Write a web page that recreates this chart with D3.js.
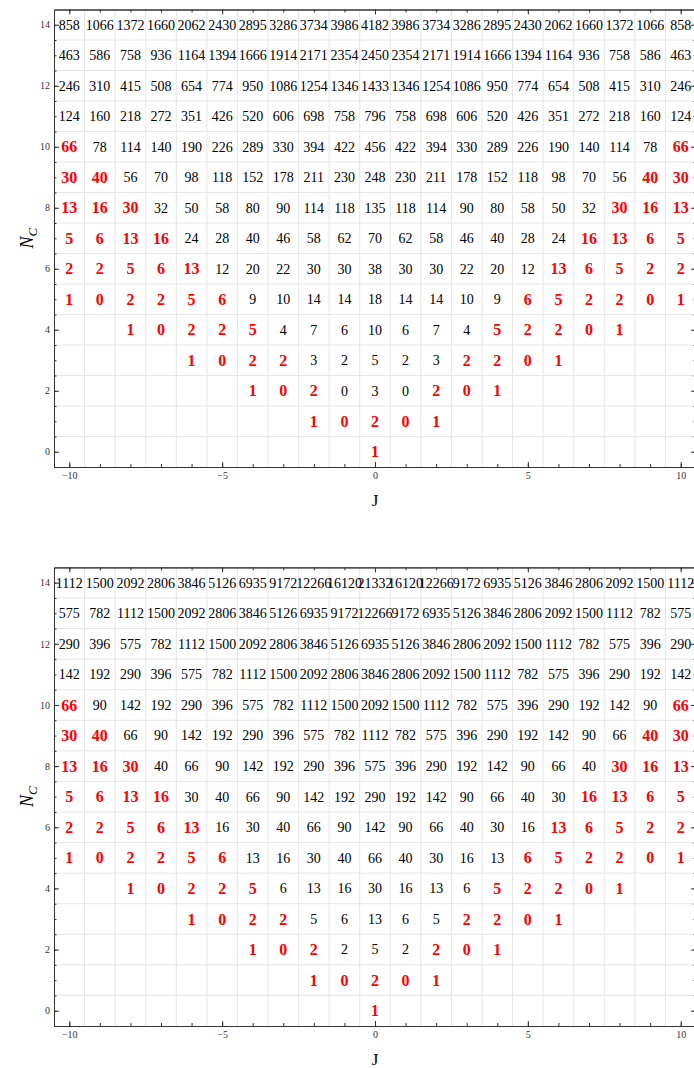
<!DOCTYPE html>
<html>
<head>
<meta charset="utf-8">
<script src="https://cdn.jsdelivr.net/npm/d3@7"></script>
<style>
body { margin: 0; background: #fff; }
svg { display: block; }
.frame path.domain { stroke: #333; }
.frame line { stroke: #333; }
.frame text { font-family: "Liberation Serif", serif; font-size: 10px; fill: #333; }
</style>
</head>
<body>
<svg id="chart" width="694" height="1068"></svg>
<script>
// columns J = -10 .. 10, rows N_C = 0 .. 14 (null = empty cell)
var jValues = d3.range(-10, 11);
var ncValues = d3.range(0, 15);

var countsTop = [
  [null,null,null,null,null,null,null,null,null,null,1,null,null,null,null,null,null,null,null,null,null],
  [null,null,null,null,null,null,null,null,1,0,2,0,1,null,null,null,null,null,null,null,null],
  [null,null,null,null,null,null,1,0,2,0,3,0,2,0,1,null,null,null,null,null,null],
  [null,null,null,null,1,0,2,2,3,2,5,2,3,2,2,0,1,null,null,null,null],
  [null,null,1,0,2,2,5,4,7,6,10,6,7,4,5,2,2,0,1,null,null],
  [1,0,2,2,5,6,9,10,14,14,18,14,14,10,9,6,5,2,2,0,1],
  [2,2,5,6,13,12,20,22,30,30,38,30,30,22,20,12,13,6,5,2,2],
  [5,6,13,16,24,28,40,46,58,62,70,62,58,46,40,28,24,16,13,6,5],
  [13,16,30,32,50,58,80,90,114,118,135,118,114,90,80,58,50,32,30,16,13],
  [30,40,56,70,98,118,152,178,211,230,248,230,211,178,152,118,98,70,56,40,30],
  [66,78,114,140,190,226,289,330,394,422,456,422,394,330,289,226,190,140,114,78,66],
  [124,160,218,272,351,426,520,606,698,758,796,758,698,606,520,426,351,272,218,160,124],
  [246,310,415,508,654,774,950,1086,1254,1346,1433,1346,1254,1086,950,774,654,508,415,310,246],
  [463,586,758,936,1164,1394,1666,1914,2171,2354,2450,2354,2171,1914,1666,1394,1164,936,758,586,463],
  [858,1066,1372,1660,2062,2430,2895,3286,3734,3986,4182,3986,3734,3286,2895,2430,2062,1660,1372,1066,858]
];

var countsBottom = [
  [null,null,null,null,null,null,null,null,null,null,1,null,null,null,null,null,null,null,null,null,null],
  [null,null,null,null,null,null,null,null,1,0,2,0,1,null,null,null,null,null,null,null,null],
  [null,null,null,null,null,null,1,0,2,2,5,2,2,0,1,null,null,null,null,null,null],
  [null,null,null,null,1,0,2,2,5,6,13,6,5,2,2,0,1,null,null,null,null],
  [null,null,1,0,2,2,5,6,13,16,30,16,13,6,5,2,2,0,1,null,null],
  [1,0,2,2,5,6,13,16,30,40,66,40,30,16,13,6,5,2,2,0,1],
  [2,2,5,6,13,16,30,40,66,90,142,90,66,40,30,16,13,6,5,2,2],
  [5,6,13,16,30,40,66,90,142,192,290,192,142,90,66,40,30,16,13,6,5],
  [13,16,30,40,66,90,142,192,290,396,575,396,290,192,142,90,66,40,30,16,13],
  [30,40,66,90,142,192,290,396,575,782,1112,782,575,396,290,192,142,90,66,40,30],
  [66,90,142,192,290,396,575,782,1112,1500,2092,1500,1112,782,575,396,290,192,142,90,66],
  [142,192,290,396,575,782,1112,1500,2092,2806,3846,2806,2092,1500,1112,782,575,396,290,192,142],
  [290,396,575,782,1112,1500,2092,2806,3846,5126,6935,5126,3846,2806,2092,1500,1112,782,575,396,290],
  [575,782,1112,1500,2092,2806,3846,5126,6935,9172,12266,9172,6935,5126,3846,2806,2092,1500,1112,782,575],
  [1112,1500,2092,2806,3846,5126,6935,9172,12266,16120,21332,16120,12266,9172,6935,5126,3846,2806,2092,1500,1112]
];

// per row N_C: cells with |J| >= this value are highlighted red (null = none)
var redFrom = [0,0,2,3,4,5,6,7,8,9,10,null,null,null,null];

var xTicks = [-10, -5, 0, 5, 10];
var yTicks = [0, 2, 4, 6, 8, 10, 12, 14];

var svg = d3.select('#chart');

var panels = [
  {counts: countsTop, top: 9.5, bottom: 467},
  {counts: countsBottom, top: 567.4, bottom: 1026}
];

var left = 54, right = 696;

panels.forEach(function(p){
  var x = d3.scaleLinear().domain([-10.5, 10.5]).range([left, right]);
  var y = d3.scaleLinear().domain([-0.5, 14.5]).range([p.bottom, p.top]);
  var g = svg.append('g');

  // grid between cells
  g.selectAll('line.vg')
    .data(d3.range(-9.5, 10, 1))
    .enter().append('line')
    .attr('x1', function(d){ return x(d); })
    .attr('x2', function(d){ return x(d); })
    .attr('y1', y(-0.5)).attr('y2', y(14.5))
    .style('stroke', '#e6e6e6').style('stroke-width', 1);
  g.selectAll('line.hg')
    .data(d3.range(0.5, 14, 1))
    .enter().append('line')
    .attr('y1', function(d){ return y(d); })
    .attr('y2', function(d){ return y(d); })
    .attr('x1', x(-10.5)).attr('x2', x(10.5))
    .style('stroke', '#e6e6e6').style('stroke-width', 1);

  // flatten cells
  var cells = [];
  p.counts.forEach(function(row, n){
    row.forEach(function(v, i){
      if (v === null) return;
      var j = jValues[i];
      var red = redFrom[n] !== null && Math.abs(j) >= redFrom[n];
      cells.push({j: j, n: ncValues[n], v: v, red: red});
    });
  });

  g.selectAll('text.cell')
    .data(cells)
    .enter().append('text')
    .attr('x', function(d){ return x(d.j); })
    .attr('y', function(d){ return y(d.n); })
    .attr('dy', '0.35em')
    .attr('text-anchor', 'middle')
    .style('font-family', '"Liberation Serif", serif')
    .style('font-size', function(d){ return d.red ? '16px' : '14px'; })
    .style('font-weight', function(d){ return d.red ? 'bold' : 'normal'; })
    .style('fill', function(d){ return d.red ? '#ff0000' : '#000'; })
    .text(function(d){ return d.v; });

  // frame: labelled bottom/left, plain top/right, minor ticks
  g.append('g').attr('class', 'frame').attr('transform', 'translate(0,' + p.bottom + ')')
    .call(d3.axisBottom(x).tickValues(xTicks).tickSizeInner(-5).tickSizeOuter(0).tickPadding(5).tickFormat(d3.format('d')));
  g.append('g').attr('class', 'frame').attr('transform', 'translate(0,' + p.bottom + ')')
    .call(d3.axisBottom(x).tickValues(d3.range(-10, 11)).tickSizeInner(-3).tickSizeOuter(0).tickFormat(''));
  g.append('g').attr('class', 'frame').attr('transform', 'translate(0,' + p.top + ')')
    .call(d3.axisTop(x).tickValues(xTicks).tickSizeInner(-5).tickSizeOuter(0).tickFormat(''));
  g.append('g').attr('class', 'frame').attr('transform', 'translate(0,' + p.top + ')')
    .call(d3.axisTop(x).tickValues(d3.range(-10, 11)).tickSizeInner(-3).tickSizeOuter(0).tickFormat(''));

  g.append('g').attr('class', 'frame').attr('transform', 'translate(' + left + ',0)')
    .call(d3.axisLeft(y).tickValues(yTicks).tickSizeInner(-5).tickSizeOuter(0).tickPadding(4));
  g.append('g').attr('class', 'frame').attr('transform', 'translate(' + left + ',0)')
    .call(d3.axisLeft(y).tickValues(d3.range(0, 14.1, 0.5)).tickSizeInner(-2.5).tickSizeOuter(0).tickFormat(''));
  g.append('g').attr('class', 'frame').attr('transform', 'translate(' + right + ',0)')
    .call(d3.axisRight(y).tickValues(yTicks).tickSizeInner(-5).tickSizeOuter(0).tickFormat(''));
  g.append('g').attr('class', 'frame').attr('transform', 'translate(' + right + ',0)')
    .call(d3.axisRight(y).tickValues(d3.range(0, 14.1, 0.5)).tickSizeInner(-2.5).tickSizeOuter(0).tickFormat(''));

  // axis titles
  g.append('text')
    .attr('x', x(0)).attr('y', p.bottom + 39)
    .attr('text-anchor', 'middle')
    .style('font-family', '"Liberation Serif", serif')
    .style('font-size', '17px')
    .text('J');

  var lab = g.append('text')
    .attr('transform', 'translate(33,' + (p.top + p.bottom) / 2 + ') rotate(-90)')
    .attr('text-anchor', 'middle')
    .style('font-family', '"Liberation Serif", serif')
    .style('font-size', '18px')
    .style('font-style', 'italic');
  lab.append('tspan').text('N');
  lab.append('tspan').attr('dy', 4).style('font-size', '13px').text('C');
});
</script>
</body>
</html>
